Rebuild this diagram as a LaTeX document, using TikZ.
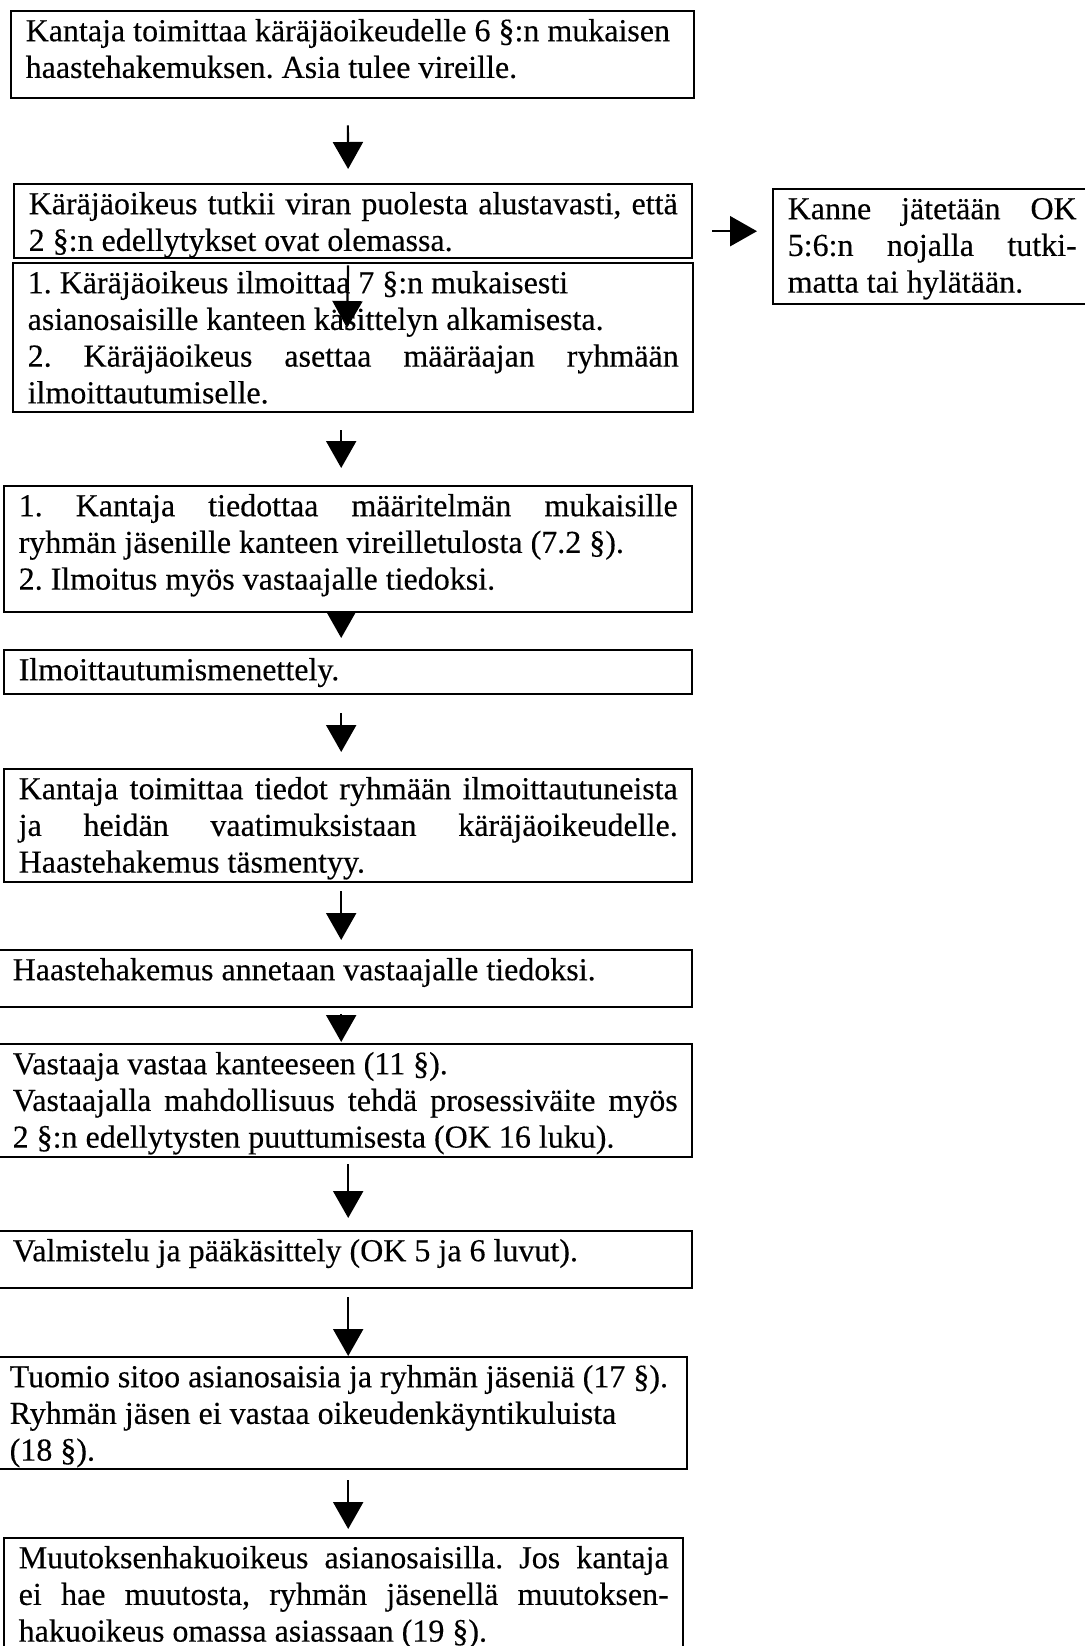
\documentclass[tikz,border=0pt]{standalone}
\usepackage{fontspec}
\setmainfont[FakeBold=0.3]{Liberation Serif}
\usetikzlibrary{arrows.meta}
\frenchspacing

\begin{document}
\begin{tikzpicture}[x=0.5pt,y=-0.5pt,
  stage/.style={draw,line width=1.2pt,anchor=north west,inner xsep=7.25pt,inner ysep=3pt,align=justify,
                text height=12pt,font=\fontsize{16}{18.35}\selectfont},
  flow/.style={-{Triangle[width=15pt,length=13.5pt]},line width=1.1pt}
  ]
  \useasboundingbox (0,0) rectangle (1085,1646);
  % main column
  \node[stage,text width=327pt,text depth=25.5pt] (kanne) at (10,10)
    {Kantaja toimittaa käräjäoikeudelle 6 §:n mukaisen\newline haastehakemuksen. Asia tulee vireille.};
  \node[stage,text width=324.5pt,text depth=19pt] (tutkinta) at (13,183)
    {Käräjäoikeus tutkii viran puolesta alustavasti, että\linebreak 2 §:n edellytykset ovat olemassa.};
  \node[stage,text width=325.5pt,text depth=56.5pt] (ilmoitus) at (12,262)
    {1. Käräjäoikeus ilmoittaa 7 §:n mukaisesti\newline asianosaisille kanteen käsittelyn alkamisesta.\newline
     2. Käräjäoikeus asettaa määräajan ryhmään\linebreak ilmoittautumiselle.};
  \node[stage,text width=144.5pt,text depth=39.5pt] (hylkays) at (772,188)
    {Kanne jätetään OK\linebreak 5:6:n nojalla tutki-\linebreak matta tai hylätään.};
  \node[stage,text width=329.5pt,text depth=45pt] (tiedotus) at (3,485)
    {1. Kantaja tiedottaa määritelmän mukaisille\linebreak ryhmän jäsenille kanteen vireilletulosta (7.2 §).\newline
     2. Ilmoitus myös vastaajalle tiedoksi.};
  \node[stage,text width=329.5pt,text depth=4pt] (menettely) at (3,649)
    {Ilmoittautumismenettely.};
  \node[stage,text width=329.5pt,text depth=38.5pt] (tiedot) at (3,768)
    {Kantaja toimittaa tiedot ryhmään ilmoittautuneista\linebreak ja heidän vaatimuksistaan käräjäoikeudelle.\linebreak
     Haastehakemus täsmentyy.};
  \node[stage,text width=332.5pt,text depth=10.5pt] (tiedoksianto) at (-3,949)
    {Haastehakemus annetaan vastaajalle tiedoksi.};
  \node[stage,text width=332.5pt,text depth=38.5pt] (vastaus) at (-3,1043)
    {Vastaaja vastaa kanteeseen (11 §).\newline Vastaajalla mahdollisuus tehdä prosessiväite myös\linebreak
     2 §:n edellytysten puuttumisesta (OK 16 luku).};
  \node[stage,text width=332.5pt,text depth=10.5pt] (kasittely) at (-3,1230)
    {Valmistelu ja pääkäsittely (OK 5 ja 6 luvut).};
  \node[stage,text width=331.5pt,text depth=38pt] (tuomio) at (-6,1356)
    {Tuomio sitoo asianosaisia ja ryhmän jäseniä (17 §).\newline Ryhmän jäsen ei vastaa oikeudenkäyntikuluista\newline (18 §).};
  \node[stage,text width=325pt,text depth=38pt] (muutos) at (3,1537)
    {Muutoksenhakuoikeus asianosaisilla. Jos kantaja\linebreak ei hae muutosta, ryhmän jäsenellä muutoksen-\linebreak
     hakuoikeus omassa asiassaan (19 §).};
  \coordinate (ilmoitusnuoli) at (347,328);

  % arrows
  \path[flow]
    ([xshift=-2.5pt]kanne.south) edge[shorten <=13pt,shorten >=7pt] ([xshift=-2.5pt]tutkinta.north)
    ([xshift=-2.5pt]tutkinta.south) edge[shorten <=3pt] (ilmoitusnuoli)
    ([yshift=-5pt]tutkinta.east) edge[shorten <=9.5pt,shorten >=7.5pt] ([yshift=-5pt]tutkinta.east -| hylkays.west)
    ([xshift=-6pt]ilmoitus.south) edge[shorten <=8.5pt,shorten >=8.5pt] ([xshift=-3.5pt]tiedotus.north)
    ([xshift=-3.5pt]tiedotus.south) edge[shorten >=5.5pt] ([xshift=-3.5pt]menettely.north)
    ([xshift=-3.5pt]menettely.south) edge[shorten <=9pt,shorten >=8pt] ([xshift=-3.5pt]tiedot.north)
    ([xshift=-3.5pt]tiedot.south) edge[shorten <=4pt,shorten >=4.5pt] ([xshift=-2pt]tiedoksianto.north)
    ([xshift=-2pt]tiedoksianto.south) edge[shorten <=3pt,shorten >=0.5pt] ([xshift=-2pt]vastaus.north)
    ([xshift=1.5pt]vastaus.south) edge[shorten <=3pt,shorten >=6pt] ([xshift=1.5pt]kasittely.north)
    ([xshift=1.5pt]kasittely.south) edge[shorten <=4pt] ([xshift=3.5pt]tuomio.north)
    ([xshift=3.5pt]tuomio.south) edge[shorten <=5pt,shorten >=4pt] ([xshift=2.25pt]muutos.north);
\end{tikzpicture}
\end{document}
